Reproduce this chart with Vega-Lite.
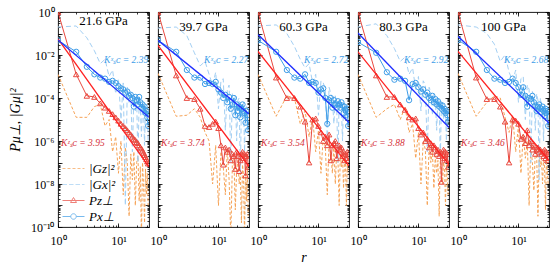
{
"$schema": "https://vega.github.io/schema/vega-lite/v6.json",
"padding": {"left": 7, "top": 5, "right": 5, "bottom": 5},
"bounds": "flush",
"spacing": 9,
"data": {"values": [
{"P":21.6,"r":1,"Gz":1.26e-3,"Gx":2.0e-1,"Pz":1,"Px":4.79e-2},
{"P":21.6,"r":2,"Gz":1.26e-5,"Gx":2.24e-1,"Pz":1.26e-3,"Px":1.41e-2},
{"P":21.6,"r":3,"Gz":1.26e-5,"Gx":6.31e-2,"Pz":1.26e-4,"Px":2.82e-3},
{"P":21.6,"r":4,"Gz":3.98e-5,"Gx":1.58e-2,"Pz":1.12e-4,"Px":1.26e-3},
{"P":21.6,"r":5,"Gz":5.01e-5,"Gx":3.98e-3,"Pz":5.62e-5,"Px":8.91e-4},
{"P":21.6,"r":6,"Gz":5.01e-6,"Gx":6.31e-3,"Pz":3.55e-5,"Px":7.94e-4},
{"P":21.6,"r":7,"Gz":1e-5,"Gx":1e-3,"Pz":2.51e-5,"Px":5.62e-4},
{"P":21.6,"r":8,"Gz":3.16e-7,"Gx":2.0e-3,"Pz":1.78e-5,"Px":6.31e-4},
{"P":21.6,"r":9,"Gz":1.58e-6,"Gx":1.58e-4,"Pz":1.26e-5,"Px":5.01e-4},
{"P":21.6,"r":10,"Gz":3.16e-8,"Gx":7.94e-4,"Pz":8.91e-6,"Px":3.55e-4},
{"P":21.6,"r":11,"Gz":1e-6,"Gx":1e-5,"Pz":6.31e-6,"Px":2.82e-4},
{"P":21.6,"r":12,"Gz":3.16e-9,"Gx":5.01e-4,"Pz":5.01e-6,"Px":2.51e-4},
{"P":21.6,"r":13,"Gz":5.01e-7,"Gx":1e-9,"Pz":3.98e-6,"Px":1.78e-4},
{"P":21.6,"r":14,"Gz":1e-7,"Gx":3.16e-4,"Pz":3.16e-6,"Px":2.0e-4},
{"P":21.6,"r":15,"Gz":3.16e-10,"Gx":6.31e-5,"Pz":2.51e-6,"Px":1.26e-4},
{"P":21.6,"r":16,"Gz":2.51e-7,"Gx":2.0e-4,"Pz":2.0e-6,"Px":1.41e-4},
{"P":21.6,"r":17,"Gz":1.58e-8,"Gx":3.16e-7,"Pz":1.58e-6,"Px":1e-4},
{"P":21.6,"r":18,"Gz":3.16e-7,"Gx":1.26e-4,"Pz":1.26e-6,"Px":3.98e-5},
{"P":21.6,"r":19,"Gz":1e-9,"Gx":2.51e-5,"Pz":1.12e-6,"Px":1.12e-4},
{"P":21.6,"r":20,"Gz":1e-7,"Gx":1e-4,"Pz":8.91e-7,"Px":7.94e-5},
{"P":21.6,"r":21,"Gz":2.0e-7,"Gx":1e-7,"Pz":7.94e-7,"Px":5.01e-5},
{"P":21.6,"r":22,"Gz":1.58e-9,"Gx":7.94e-5,"Pz":6.31e-7,"Px":1.12e-4},
{"P":21.6,"r":23,"Gz":6.31e-8,"Gx":3.98e-5,"Pz":5.01e-7,"Px":6.31e-5},
{"P":21.6,"r":24,"Gz":3.16e-11,"Gx":1.58e-6,"Pz":4.47e-7,"Px":3.55e-5},
{"P":21.6,"r":25,"Gz":1e-7,"Gx":5.01e-5,"Pz":3.55e-7,"Px":5.01e-5},
{"P":21.6,"r":26,"Gz":1e-8,"Gx":3.16e-5,"Pz":2.82e-7,"Px":3.16e-5},
{"P":21.6,"r":27,"Gz":1.58e-10,"Gx":6.31e-7,"Pz":2.24e-7,"Px":3.98e-5},
{"P":21.6,"r":28,"Gz":5.01e-8,"Gx":3.98e-5,"Pz":1.78e-7,"Px":2.0e-5},
{"P":21.6,"r":29,"Gz":3.16e-9,"Gx":1e-5,"Pz":1.41e-7,"Px":2.51e-5},
{"P":21.6,"r":30,"Gz":3.16e-8,"Gx":2.51e-5,"Pz":1.12e-7,"Px":1.26e-5},
{"P":21.6,"r":31,"Gz":1e-9,"Gx":1e-6,"Pz":8.91e-8,"Px":5.01e-6},
{"P":39.7,"r":1,"Gz":1.41e-3,"Gx":1.78e-1,"Pz":1,"Px":4.79e-2},
{"P":39.7,"r":2,"Gz":1.41e-5,"Gx":2.0e-1,"Pz":1.12e-3,"Px":1.41e-2},
{"P":39.7,"r":3,"Gz":1.58e-5,"Gx":7.94e-2,"Pz":1e-4,"Px":2.0e-3},
{"P":39.7,"r":4,"Gz":3.16e-5,"Gx":1.26e-2,"Pz":8.91e-5,"Px":8.91e-4},
{"P":39.7,"r":5,"Gz":1.26e-5,"Gx":3.16e-3,"Pz":3.16e-5,"Px":8.91e-4},
{"P":39.7,"r":6,"Gz":2.51e-6,"Gx":5.01e-3,"Pz":5.01e-6,"Px":4.47e-4},
{"P":39.7,"r":7,"Gz":1e-6,"Gx":1.26e-3,"Pz":4.47e-6,"Px":5.01e-4},
{"P":39.7,"r":8,"Gz":1e-8,"Gx":3.98e-4,"Pz":6.31e-6,"Px":4.47e-4},
{"P":39.7,"r":9,"Gz":6.31e-7,"Gx":1.58e-3,"Pz":7.94e-6,"Px":5.62e-4},
{"P":39.7,"r":10,"Gz":1e-9,"Gx":3.16e-5,"Pz":3.98e-6,"Px":2.51e-4},
{"P":39.7,"r":11,"Gz":3.16e-7,"Gx":6.31e-4,"Pz":6.31e-7,"Px":1.78e-4},
{"P":39.7,"r":12,"Gz":6.31e-8,"Gx":7.94e-4,"Pz":7.94e-8,"Px":1e-4},
{"P":39.7,"r":13,"Gz":3.16e-9,"Gx":3.16e-6,"Pz":5.01e-7,"Px":1.41e-4},
{"P":39.7,"r":14,"Gz":3.98e-7,"Gx":2.51e-4,"Pz":3.16e-7,"Px":6.31e-5},
{"P":39.7,"r":15,"Gz":1.58e-8,"Gx":3.98e-4,"Pz":3.98e-7,"Px":1.12e-4},
{"P":39.7,"r":16,"Gz":3.16e-11,"Gx":1e-7,"Pz":1.26e-7,"Px":3.16e-5},
{"P":39.7,"r":17,"Gz":1e-7,"Gx":1.58e-4,"Pz":2.51e-7,"Px":5.01e-5},
{"P":39.7,"r":18,"Gz":1.58e-7,"Gx":3.98e-5,"Pz":2.0e-7,"Px":1e-4},
{"P":39.7,"r":19,"Gz":6.31e-10,"Gx":1.26e-4,"Pz":5.01e-8,"Px":1.58e-5},
{"P":39.7,"r":20,"Gz":5.01e-8,"Gx":1e-6,"Pz":3.16e-7,"Px":5.01e-5},
{"P":39.7,"r":21,"Gz":1.26e-7,"Gx":7.94e-5,"Pz":2.0e-7,"Px":2.51e-5},
{"P":39.7,"r":22,"Gz":1e-8,"Gx":1e-4,"Pz":3.98e-8,"Px":3.98e-5},
{"P":39.7,"r":23,"Gz":3.16e-8,"Gx":3.16e-8,"Pz":1.26e-7,"Px":1.26e-5},
{"P":39.7,"r":24,"Gz":1.58e-10,"Gx":5.01e-5,"Pz":2.51e-7,"Px":3.16e-5},
{"P":39.7,"r":25,"Gz":7.94e-8,"Gx":2.51e-5,"Pz":3.16e-7,"Px":5.01e-5},
{"P":39.7,"r":26,"Gz":2.51e-8,"Gx":6.31e-5,"Pz":1.58e-7,"Px":2.51e-5},
{"P":39.7,"r":27,"Gz":3.16e-11,"Gx":3.16e-7,"Pz":2.51e-7,"Px":2.0e-5},
{"P":39.7,"r":28,"Gz":5.01e-8,"Gx":3.16e-5,"Pz":2.51e-8,"Px":7.08e-6},
{"P":39.7,"r":29,"Gz":1.58e-9,"Gx":3.98e-5,"Pz":2.0e-7,"Px":2.51e-5},
{"P":39.7,"r":30,"Gz":6.31e-8,"Gx":3.16e-6,"Pz":2.51e-7,"Px":1.58e-5},
{"P":39.7,"r":31,"Gz":3.16e-10,"Gx":1e-5,"Pz":6.31e-8,"Px":3.16e-6},
{"P":60.3,"r":1,"Gz":1.26e-3,"Gx":2.24e-1,"Pz":1,"Px":4.79e-2},
{"P":60.3,"r":2,"Gz":1.41e-5,"Gx":2.51e-1,"Pz":8.91e-4,"Px":1.41e-2},
{"P":60.3,"r":3,"Gz":1.26e-4,"Gx":1e-1,"Pz":1e-4,"Px":2.0e-3},
{"P":60.3,"r":4,"Gz":1e-4,"Gx":2.51e-2,"Pz":1e-4,"Px":8.91e-4},
{"P":60.3,"r":5,"Gz":6.31e-6,"Gx":6.31e-3,"Pz":3.98e-5,"Px":7.94e-4},
{"P":60.3,"r":6,"Gz":2.51e-5,"Gx":2.51e-3,"Pz":7.94e-6,"Px":1.26e-3},
{"P":60.3,"r":7,"Gz":1.58e-6,"Gx":3.98e-3,"Pz":1e-7,"Px":5.01e-4},
{"P":60.3,"r":8,"Gz":1.26e-5,"Gx":5.01e-4,"Pz":1e-5,"Px":5.62e-4},
{"P":60.3,"r":9,"Gz":3.16e-7,"Gx":1.26e-3,"Pz":1.12e-5,"Px":5.01e-4},
{"P":60.3,"r":10,"Gz":3.16e-6,"Gx":1.58e-5,"Pz":5.01e-6,"Px":1.78e-4},
{"P":60.3,"r":11,"Gz":3.16e-8,"Gx":6.31e-4,"Pz":2.51e-6,"Px":2.51e-4},
{"P":60.3,"r":12,"Gz":1.58e-6,"Gx":5.01e-4,"Pz":1e-6,"Px":2.82e-4},
{"P":60.3,"r":13,"Gz":5.01e-7,"Gx":2.51e-4,"Pz":1.58e-6,"Px":1e-4},
{"P":60.3,"r":14,"Gz":3.16e-9,"Gx":1e-6,"Pz":6.31e-7,"Px":6.31e-6},
{"P":60.3,"r":15,"Gz":1e-6,"Gx":3.16e-4,"Pz":2.0e-6,"Px":7.94e-5},
{"P":60.3,"r":16,"Gz":2.51e-7,"Gx":1.58e-4,"Pz":1.26e-7,"Px":1e-4},
{"P":60.3,"r":17,"Gz":3.16e-8,"Gx":1e-4,"Pz":6.31e-7,"Px":3.55e-5},
{"P":60.3,"r":18,"Gz":6.31e-7,"Gx":6.31e-6,"Pz":7.94e-7,"Px":7.94e-5},
{"P":60.3,"r":19,"Gz":1e-8,"Gx":1.26e-4,"Pz":1e-6,"Px":5.01e-5},
{"P":60.3,"r":20,"Gz":3.16e-7,"Gx":5.01e-5,"Pz":1.58e-7,"Px":3.55e-5},
{"P":60.3,"r":21,"Gz":1.58e-7,"Gx":1e-7,"Pz":3.98e-7,"Px":7.08e-5},
{"P":60.3,"r":22,"Gz":1e-9,"Gx":7.94e-5,"Pz":6.31e-7,"Px":5.01e-5},
{"P":60.3,"r":23,"Gz":2.51e-7,"Gx":6.31e-5,"Pz":3.98e-7,"Px":3.55e-5},
{"P":60.3,"r":24,"Gz":6.31e-8,"Gx":3.16e-5,"Pz":5.01e-7,"Px":6.31e-5},
{"P":60.3,"r":25,"Gz":2.0e-7,"Gx":1e-6,"Pz":2.0e-7,"Px":4.47e-5},
{"P":60.3,"r":26,"Gz":6.31e-9,"Gx":5.01e-5,"Pz":3.16e-7,"Px":2.0e-5},
{"P":60.3,"r":27,"Gz":1.26e-7,"Gx":3.98e-5,"Pz":1.26e-7,"Px":3.98e-5},
{"P":60.3,"r":28,"Gz":1e-7,"Gx":1e-5,"Pz":2.51e-7,"Px":2.82e-5},
{"P":60.3,"r":29,"Gz":1e-9,"Gx":5.01e-5,"Pz":1.58e-7,"Px":1.58e-5},
{"P":60.3,"r":30,"Gz":1e-7,"Gx":2.51e-5,"Pz":3.16e-7,"Px":3.16e-5},
{"P":60.3,"r":31,"Gz":3.16e-8,"Gx":3.16e-6,"Pz":1.26e-7,"Px":5.01e-6},
{"P":80.3,"r":1,"Gz":1.26e-3,"Gx":2.0e-1,"Pz":1,"Px":3.98e-2},
{"P":80.3,"r":2,"Gz":1.26e-5,"Gx":2.82e-1,"Pz":1.12e-3,"Px":1.26e-2},
{"P":80.3,"r":3,"Gz":3.16e-5,"Gx":7.94e-2,"Pz":1.12e-4,"Px":1.58e-3},
{"P":80.3,"r":4,"Gz":5.01e-5,"Gx":2.0e-2,"Pz":1.12e-4,"Px":7.08e-4},
{"P":80.3,"r":5,"Gz":1e-5,"Gx":5.01e-3,"Pz":5.01e-5,"Px":7.94e-4},
{"P":80.3,"r":6,"Gz":3.98e-5,"Gx":7.94e-3,"Pz":2.82e-5,"Px":6.31e-4},
{"P":80.3,"r":7,"Gz":2.51e-6,"Gx":1.26e-3,"Pz":1.26e-5,"Px":7.94e-5},
{"P":80.3,"r":8,"Gz":6.31e-6,"Gx":2.51e-3,"Pz":1e-5,"Px":4.47e-4},
{"P":80.3,"r":9,"Gz":1.58e-7,"Gx":2.51e-4,"Pz":1.12e-5,"Px":5.01e-4},
{"P":80.3,"r":10,"Gz":2.51e-6,"Gx":1e-3,"Pz":3.98e-6,"Px":3.16e-4},
{"P":80.3,"r":11,"Gz":1e-8,"Gx":2.51e-5,"Pz":2.0e-6,"Px":2.0e-4},
{"P":80.3,"r":12,"Gz":1e-6,"Gx":6.31e-4,"Pz":2.51e-6,"Px":2.51e-4},
{"P":80.3,"r":13,"Gz":3.98e-7,"Gx":3.98e-4,"Pz":1e-6,"Px":1.41e-4},
{"P":80.3,"r":14,"Gz":1e-9,"Gx":3.16e-7,"Pz":1.26e-6,"Px":1.78e-4},
{"P":80.3,"r":15,"Gz":6.31e-7,"Gx":3.16e-4,"Pz":5.01e-7,"Px":1e-4},
{"P":80.3,"r":16,"Gz":1e-7,"Gx":2.0e-4,"Pz":7.94e-7,"Px":7.94e-5},
{"P":80.3,"r":17,"Gz":3.16e-7,"Gx":1.58e-5,"Pz":3.16e-7,"Px":1.26e-4},
{"P":80.3,"r":18,"Gz":6.31e-9,"Gx":1.58e-4,"Pz":6.31e-7,"Px":6.31e-5},
{"P":80.3,"r":19,"Gz":2.0e-7,"Gx":1e-4,"Pz":5.01e-7,"Px":8.91e-5},
{"P":80.3,"r":20,"Gz":3.16e-8,"Gx":3.16e-6,"Pz":2.51e-7,"Px":5.01e-5},
{"P":80.3,"r":21,"Gz":1.26e-7,"Gx":1e-4,"Pz":3.98e-7,"Px":7.08e-5},
{"P":80.3,"r":22,"Gz":3.16e-10,"Gx":6.31e-5,"Pz":2.0e-7,"Px":3.98e-5},
{"P":80.3,"r":23,"Gz":1.58e-7,"Gx":1.58e-7,"Pz":3.16e-7,"Px":5.01e-5},
{"P":80.3,"r":24,"Gz":6.31e-8,"Gx":6.31e-5,"Pz":1.26e-8,"Px":3.16e-5},
{"P":80.3,"r":25,"Gz":1e-8,"Gx":3.98e-5,"Pz":2.51e-7,"Px":4.47e-5},
{"P":80.3,"r":26,"Gz":1e-7,"Gx":1e-5,"Pz":3.98e-7,"Px":2.51e-5},
{"P":80.3,"r":27,"Gz":5.01e-8,"Gx":3.98e-5,"Pz":1.58e-7,"Px":3.16e-5},
{"P":80.3,"r":28,"Gz":1e-9,"Gx":2.51e-5,"Pz":3.16e-7,"Px":2.0e-5},
{"P":80.3,"r":29,"Gz":7.94e-8,"Gx":1e-6,"Pz":1.26e-7,"Px":2.51e-5},
{"P":80.3,"r":30,"Gz":2.51e-8,"Gx":3.16e-5,"Pz":2.51e-7,"Px":1.58e-5},
{"P":80.3,"r":31,"Gz":3.16e-9,"Gx":6.31e-6,"Pz":6.31e-8,"Px":7.94e-6},
{"P":100,"r":1,"Gz":1.41e-3,"Gx":2.51e-1,"Pz":1,"Px":5.01e-2},
{"P":100,"r":2,"Gz":1.41e-5,"Gx":2.0e-1,"Pz":8.91e-4,"Px":1.41e-2},
{"P":100,"r":3,"Gz":6.31e-5,"Gx":1e-1,"Pz":8.91e-5,"Px":2.0e-3},
{"P":100,"r":4,"Gz":1.26e-4,"Gx":3.16e-2,"Pz":8.91e-5,"Px":7.94e-4},
{"P":100,"r":5,"Gz":1e-4,"Gx":5.01e-3,"Pz":3.98e-5,"Px":7.08e-4},
{"P":100,"r":6,"Gz":1.26e-5,"Gx":1e-2,"Pz":7.94e-6,"Px":5.01e-4},
{"P":100,"r":7,"Gz":2.51e-6,"Gx":1.58e-3,"Pz":1e-7,"Px":5.62e-4},
{"P":100,"r":8,"Gz":1.58e-5,"Gx":6.31e-4,"Pz":1e-5,"Px":7.94e-4},
{"P":100,"r":9,"Gz":3.16e-7,"Gx":2.0e-3,"Pz":8.91e-6,"Px":5.01e-4},
{"P":100,"r":10,"Gz":5.01e-6,"Gx":6.31e-5,"Pz":6.31e-6,"Px":3.16e-4},
{"P":100,"r":11,"Gz":3.16e-8,"Gx":7.94e-4,"Pz":1.26e-6,"Px":1.41e-4},
{"P":100,"r":12,"Gz":2.0e-6,"Gx":1e-3,"Pz":1.58e-6,"Px":3.16e-4},
{"P":100,"r":13,"Gz":1.58e-7,"Gx":1e-5,"Pz":7.94e-7,"Px":1.26e-4},
{"P":100,"r":14,"Gz":1e-6,"Gx":3.98e-4,"Pz":3.16e-6,"Px":3.98e-5},
{"P":100,"r":15,"Gz":1e-9,"Gx":2.51e-4,"Pz":6.31e-7,"Px":1e-4},
{"P":100,"r":16,"Gz":6.31e-7,"Gx":1e-7,"Pz":1e-6,"Px":8.91e-5},
{"P":100,"r":17,"Gz":1e-7,"Gx":2.0e-4,"Pz":3.98e-7,"Px":1.26e-4},
{"P":100,"r":18,"Gz":5.01e-9,"Gx":1.26e-4,"Pz":6.31e-7,"Px":6.31e-5},
{"P":100,"r":19,"Gz":3.98e-7,"Gx":3.16e-6,"Pz":2.51e-7,"Px":4.47e-5},
{"P":100,"r":20,"Gz":2.51e-7,"Gx":1.58e-4,"Pz":3.98e-7,"Px":2.51e-5},
{"P":100,"r":21,"Gz":3.16e-10,"Gx":7.94e-5,"Pz":5.01e-7,"Px":3.98e-5},
{"P":100,"r":22,"Gz":2.0e-7,"Gx":1.58e-8,"Pz":3.16e-7,"Px":5.01e-5},
{"P":100,"r":23,"Gz":6.31e-8,"Gx":1e-4,"Pz":3.98e-7,"Px":2.24e-5},
{"P":100,"r":24,"Gz":1.58e-7,"Gx":5.01e-5,"Pz":2.51e-7,"Px":3.16e-5},
{"P":100,"r":25,"Gz":1e-8,"Gx":3.16e-5,"Pz":3.16e-7,"Px":3.98e-5},
{"P":100,"r":26,"Gz":1.26e-7,"Gx":1e-6,"Pz":2.0e-7,"Px":2.51e-5},
{"P":100,"r":27,"Gz":7.94e-8,"Gx":5.01e-5,"Pz":3.98e-7,"Px":1.41e-5},
{"P":100,"r":28,"Gz":6.31e-10,"Gx":3.98e-5,"Pz":1.58e-7,"Px":3.16e-5},
{"P":100,"r":29,"Gz":1.26e-7,"Gx":1e-5,"Pz":3.16e-7,"Px":2.0e-5},
{"P":100,"r":30,"Gz":3.98e-8,"Gx":3.16e-5,"Pz":1.26e-7,"Px":2.51e-5},
{"P":100,"r":31,"Gz":1e-8,"Gx":3.16e-6,"Pz":2.51e-7,"Px":5.01e-6},
{"P":21.6,"r":1,"Fz":5.62e-2,"Fx":5.01e-2},
{"P":21.6,"r":32,"Fz":6.31e-8,"Fx":1.26e-5},
{"P":39.7,"r":1,"Fz":2.82e-2,"Fx":4.79e-2},
{"P":39.7,"r":32,"Fz":6.61e-8,"Fx":1.82e-5},
{"P":60.3,"r":1,"Fz":1.48e-2,"Fx":8.91e-2},
{"P":60.3,"r":32,"Fz":6.92e-8,"Fx":7.24e-6},
{"P":80.3,"r":1,"Fz":1.41e-2,"Fx":1.05e-1},
{"P":80.3,"r":32,"Fz":7.94e-8,"Fx":4.27e-6},
{"P":100,"r":1,"Fz":1.48e-2,"Fx":7.41e-2},
{"P":100,"r":32,"Fz":1.26e-7,"Fx":6.92e-6},
{"P":21.6,"Kx":"Kˣₛᴄ = 2.39","Kz":"Kᶻₛᴄ = 3.95"},
{"P":39.7,"Kx":"Kˣₛᴄ = 2.27","Kz":"Kᶻₛᴄ = 3.74"},
{"P":60.3,"Kx":"Kˣₛᴄ = 2.72","Kz":"Kᶻₛᴄ = 3.54"},
{"P":80.3,"Kx":"Kˣₛᴄ = 2.92","Kz":"Kᶻₛᴄ = 3.88"},
{"P":100,"Kx":"Kˣₛᴄ = 2.68","Kz":"Kᶻₛᴄ = 3.46"}
]},
"resolve": {"scale": {"color": "independent", "shape": "independent"}, "legend": {"color": "independent", "shape": "independent"}},
"hconcat": [
{
"width": 91, "height": 215,
"title": {"text": "21.6 GPa", "anchor": "middle", "offset": -22},
"transform": [{"filter": "datum.P == 21.6"}],
"resolve": {"axis": {"x": "independent", "y": "independent"}},
"layer": [
{"transform": [{"filter": "isValid(datum.Gz)"}], "mark": {"type": "line", "color": "#f6a255", "strokeDash": [3, 2], "strokeWidth": 1, "clip": true},
 "encoding": {"x": {"field": "r", "type": "quantitative", "scale": {"type": "log", "domain": [1, 32]}, "axis": {"orient": "bottom", "values": [1, 10], "labelExpr": "datum.value < 5 ? '10⁰' : '10¹'", "tickSize": -4, "labelPadding": 12, "labelFlush": false, "title": null}},
  "y": {"field": "Gz", "type": "quantitative", "scale": {"type": "log", "domain": [1e-10, 1]}, "axis": {"orient": "left", "values": [1e-10, 1e-9, 1e-8, 1e-7, 1e-6, 1e-5, 1e-4, 0.001, 0.01, 0.1, 1], "labelExpr": "['10⁰','','10⁻²','','10⁻⁴','','10⁻⁶','','10⁻⁸','','10⁻¹⁰'][round(-log(datum.value)/LN10)]", "tickSize": -4, "labelPadding": 8, "title": "Pμ⊥, |Gμ|²", "titleFontStyle": "italic", "titlePadding": 8}}}},
{"transform": [{"filter": "isValid(datum.Gx)"}], "mark": {"type": "line", "color": "#a3cff3", "strokeDash": [5, 3], "strokeWidth": 1, "clip": true},
 "encoding": {"x": {"field": "r", "type": "quantitative", "scale": {"type": "log", "domain": [1, 32]}, "axis": {"orient": "bottom", "labels": false, "tickCount": 20, "tickSize": -2, "title": null}},
  "y": {"field": "Gx", "type": "quantitative", "scale": {"type": "log", "domain": [1e-10, 1]}, "axis": {"orient": "left", "labels": false, "tickCount": 20, "tickSize": -2, "title": null}}}},
{"transform": [{"filter": "isValid(datum.Pz)"}], "mark": {"type": "line", "color": "#e9493f", "strokeWidth": 1, "clip": true, "point": {"shape": "triangle-up", "filled": false, "size": 30, "strokeWidth": 1, "color": "#e9493f"}},
 "encoding": {"x": {"field": "r", "type": "quantitative", "scale": {"type": "log", "domain": [1, 32]}, "axis": null},
  "y": {"field": "Pz", "type": "quantitative", "scale": {"type": "log", "domain": [1e-10, 1]}, "axis": null}}},
{"transform": [{"filter": "isValid(datum.Px)"}], "mark": {"type": "line", "color": "#3e9de8", "strokeWidth": 1, "clip": true, "point": {"shape": "circle", "filled": false, "size": 28, "strokeWidth": 1, "color": "#3e9de8"}},
 "encoding": {"x": {"field": "r", "type": "quantitative", "scale": {"type": "log", "domain": [1, 32]}, "axis": null},
  "y": {"field": "Px", "type": "quantitative", "scale": {"type": "log", "domain": [1e-10, 1]}, "axis": null}}},
{"transform": [{"filter": "isValid(datum.Fz)"}], "mark": {"type": "line", "color": "#ff1f1f", "strokeWidth": 1.3, "clip": true},
 "encoding": {"x": {"field": "r", "type": "quantitative", "scale": {"type": "log", "domain": [1, 32]}, "axis": {"orient": "top", "values": [1, 10], "labels": false, "tickSize": -4, "title": null}},
  "y": {"field": "Fz", "type": "quantitative", "scale": {"type": "log", "domain": [1e-10, 1]}, "axis": {"orient": "right", "values": [1e-10, 1e-9, 1e-8, 1e-7, 1e-6, 1e-5, 1e-4, 0.001, 0.01, 0.1, 1], "labels": false, "tickSize": -4, "title": null}}}},
{"transform": [{"filter": "isValid(datum.Fx)"}], "mark": {"type": "line", "color": "#1f2fff", "strokeWidth": 1.3, "clip": true},
 "encoding": {"x": {"field": "r", "type": "quantitative", "scale": {"type": "log", "domain": [1, 32]}, "axis": {"orient": "top", "labels": false, "tickCount": 20, "tickSize": -2, "title": null}},
  "y": {"field": "Fx", "type": "quantitative", "scale": {"type": "log", "domain": [1e-10, 1]}, "axis": {"orient": "right", "labels": false, "tickCount": 20, "tickSize": -2, "title": null}}}},
{"transform": [{"filter": "isValid(datum.Kx)"}], "mark": {"type": "text", "align": "right", "baseline": "middle", "color": "#3e9de8", "font": "Liberation Serif", "fontSize": 9.5, "fontStyle": "italic"},
 "encoding": {"x": {"datum": 31, "type": "quantitative", "scale": {"type": "log", "domain": [1, 32]}, "axis": null}, "y": {"datum": 0.0059, "type": "quantitative", "scale": {"type": "log", "domain": [1e-10, 1]}, "axis": null}, "text": {"field": "Kx"}}},
{"transform": [{"filter": "isValid(datum.Kz)"}], "mark": {"type": "text", "align": "left", "baseline": "middle", "color": "#d6333a", "font": "Liberation Serif", "fontSize": 9.5, "fontStyle": "italic"},
 "encoding": {"x": {"datum": 1.12, "type": "quantitative", "scale": {"type": "log", "domain": [1, 32]}, "axis": null}, "y": {"datum": 8e-7, "type": "quantitative", "scale": {"type": "log", "domain": [1e-10, 1]}, "axis": null}, "text": {"field": "Kz"}}},
{"transform": [{"filter": "datum.P < 0"}], "mark": {"type": "point", "filled": false, "strokeWidth": 1},
 "encoding": {"color": {"field": "s", "type": "nominal", "scale": {"domain": ["|Gz|²", "|Gx|²", "Pz⊥", "Px⊥"], "range": ["#f6a255", "#a3cff3", "#e9493f", "#3e9de8"]}, "legend": {"orient": "bottom-left", "title": null, "offset": 3, "labelFont": "Liberation Serif", "labelFontSize": 13, "labelFontStyle": "italic", "labelColor": "black", "symbolSize": 100, "symbolStrokeWidth": 1, "labelOffset": 15, "rowPadding": 2, "padding": 0}},
  "shape": {"field": "s", "type": "nominal", "scale": {"domain": ["|Gz|²", "|Gx|²", "Pz⊥", "Px⊥"], "range": ["M-1,0H-0.4M0,0H0.6M1,0H1.6M2,0H2.6M3,0H3.4", "M-1,0H-0.1M0.3,0H1.2M1.6,0H2.5M2.9,0H3.4", "M-1,0H3.4M1.2,-0.6L1.8,0.4L0.6,0.4Z", "M-1,0H0.65M1.75,0H3.4M0.65,0A0.55,0.55 0 1,0 1.75,0A0.55,0.55 0 1,0 0.65,0"]}}}}
]
},
{
"width": 91, "height": 215,
"title": {"text": "39.7 GPa", "anchor": "middle", "offset": -22},
"transform": [{"filter": "datum.P == 39.7"}],
"resolve": {"axis": {"x": "independent", "y": "independent"}},
"layer": [
{"transform": [{"filter": "isValid(datum.Gz)"}], "mark": {"type": "line", "color": "#f6a255", "strokeDash": [3, 2], "strokeWidth": 1, "clip": true},
 "encoding": {"x": {"field": "r", "type": "quantitative", "scale": {"type": "log", "domain": [1, 32]}, "axis": {"orient": "bottom", "values": [1, 10], "labelExpr": "datum.value < 5 ? '10⁰' : '10¹'", "tickSize": -4, "labelPadding": 12, "labelFlush": false, "title": null}},
  "y": {"field": "Gz", "type": "quantitative", "scale": {"type": "log", "domain": [1e-10, 1]}, "axis": {"orient": "left", "values": [1e-10, 1e-9, 1e-8, 1e-7, 1e-6, 1e-5, 1e-4, 0.001, 0.01, 0.1, 1], "labels": false, "tickSize": -4, "title": null}}}},
{"transform": [{"filter": "isValid(datum.Gx)"}], "mark": {"type": "line", "color": "#a3cff3", "strokeDash": [5, 3], "strokeWidth": 1, "clip": true},
 "encoding": {"x": {"field": "r", "type": "quantitative", "scale": {"type": "log", "domain": [1, 32]}, "axis": {"orient": "bottom", "labels": false, "tickCount": 20, "tickSize": -2, "title": null}},
  "y": {"field": "Gx", "type": "quantitative", "scale": {"type": "log", "domain": [1e-10, 1]}, "axis": {"orient": "left", "labels": false, "tickCount": 20, "tickSize": -2, "title": null}}}},
{"transform": [{"filter": "isValid(datum.Pz)"}], "mark": {"type": "line", "color": "#e9493f", "strokeWidth": 1, "clip": true, "point": {"shape": "triangle-up", "filled": false, "size": 30, "strokeWidth": 1, "color": "#e9493f"}},
 "encoding": {"x": {"field": "r", "type": "quantitative", "scale": {"type": "log", "domain": [1, 32]}, "axis": null},
  "y": {"field": "Pz", "type": "quantitative", "scale": {"type": "log", "domain": [1e-10, 1]}, "axis": null}}},
{"transform": [{"filter": "isValid(datum.Px)"}], "mark": {"type": "line", "color": "#3e9de8", "strokeWidth": 1, "clip": true, "point": {"shape": "circle", "filled": false, "size": 28, "strokeWidth": 1, "color": "#3e9de8"}},
 "encoding": {"x": {"field": "r", "type": "quantitative", "scale": {"type": "log", "domain": [1, 32]}, "axis": null},
  "y": {"field": "Px", "type": "quantitative", "scale": {"type": "log", "domain": [1e-10, 1]}, "axis": null}}},
{"transform": [{"filter": "isValid(datum.Fz)"}], "mark": {"type": "line", "color": "#ff1f1f", "strokeWidth": 1.3, "clip": true},
 "encoding": {"x": {"field": "r", "type": "quantitative", "scale": {"type": "log", "domain": [1, 32]}, "axis": {"orient": "top", "values": [1, 10], "labels": false, "tickSize": -4, "title": null}},
  "y": {"field": "Fz", "type": "quantitative", "scale": {"type": "log", "domain": [1e-10, 1]}, "axis": {"orient": "right", "values": [1e-10, 1e-9, 1e-8, 1e-7, 1e-6, 1e-5, 1e-4, 0.001, 0.01, 0.1, 1], "labels": false, "tickSize": -4, "title": null}}}},
{"transform": [{"filter": "isValid(datum.Fx)"}], "mark": {"type": "line", "color": "#1f2fff", "strokeWidth": 1.3, "clip": true},
 "encoding": {"x": {"field": "r", "type": "quantitative", "scale": {"type": "log", "domain": [1, 32]}, "axis": {"orient": "top", "labels": false, "tickCount": 20, "tickSize": -2, "title": null}},
  "y": {"field": "Fx", "type": "quantitative", "scale": {"type": "log", "domain": [1e-10, 1]}, "axis": {"orient": "right", "labels": false, "tickCount": 20, "tickSize": -2, "title": null}}}},
{"transform": [{"filter": "isValid(datum.Kx)"}], "mark": {"type": "text", "align": "right", "baseline": "middle", "color": "#3e9de8", "font": "Liberation Serif", "fontSize": 9.5, "fontStyle": "italic"},
 "encoding": {"x": {"datum": 31, "type": "quantitative", "scale": {"type": "log", "domain": [1, 32]}, "axis": null}, "y": {"datum": 0.0059, "type": "quantitative", "scale": {"type": "log", "domain": [1e-10, 1]}, "axis": null}, "text": {"field": "Kx"}}},
{"transform": [{"filter": "isValid(datum.Kz)"}], "mark": {"type": "text", "align": "left", "baseline": "middle", "color": "#d6333a", "font": "Liberation Serif", "fontSize": 9.5, "fontStyle": "italic"},
 "encoding": {"x": {"datum": 1.12, "type": "quantitative", "scale": {"type": "log", "domain": [1, 32]}, "axis": null}, "y": {"datum": 8e-7, "type": "quantitative", "scale": {"type": "log", "domain": [1e-10, 1]}, "axis": null}, "text": {"field": "Kz"}}}
]
},
{
"width": 91, "height": 215,
"title": {"text": "60.3 GPa", "anchor": "middle", "offset": -22},
"transform": [{"filter": "datum.P == 60.3"}],
"resolve": {"axis": {"x": "independent", "y": "independent"}},
"layer": [
{"transform": [{"filter": "isValid(datum.Gz)"}], "mark": {"type": "line", "color": "#f6a255", "strokeDash": [3, 2], "strokeWidth": 1, "clip": true},
 "encoding": {"x": {"field": "r", "type": "quantitative", "scale": {"type": "log", "domain": [1, 32]}, "axis": {"orient": "bottom", "values": [1, 10], "labelExpr": "datum.value < 5 ? '10⁰' : '10¹'", "tickSize": -4, "labelPadding": 12, "labelFlush": false, "title": "r", "titleFontStyle": "italic", "titlePadding": 4}},
  "y": {"field": "Gz", "type": "quantitative", "scale": {"type": "log", "domain": [1e-10, 1]}, "axis": {"orient": "left", "values": [1e-10, 1e-9, 1e-8, 1e-7, 1e-6, 1e-5, 1e-4, 0.001, 0.01, 0.1, 1], "labels": false, "tickSize": -4, "title": null}}}},
{"transform": [{"filter": "isValid(datum.Gx)"}], "mark": {"type": "line", "color": "#a3cff3", "strokeDash": [5, 3], "strokeWidth": 1, "clip": true},
 "encoding": {"x": {"field": "r", "type": "quantitative", "scale": {"type": "log", "domain": [1, 32]}, "axis": {"orient": "bottom", "labels": false, "tickCount": 20, "tickSize": -2, "title": null}},
  "y": {"field": "Gx", "type": "quantitative", "scale": {"type": "log", "domain": [1e-10, 1]}, "axis": {"orient": "left", "labels": false, "tickCount": 20, "tickSize": -2, "title": null}}}},
{"transform": [{"filter": "isValid(datum.Pz)"}], "mark": {"type": "line", "color": "#e9493f", "strokeWidth": 1, "clip": true, "point": {"shape": "triangle-up", "filled": false, "size": 30, "strokeWidth": 1, "color": "#e9493f"}},
 "encoding": {"x": {"field": "r", "type": "quantitative", "scale": {"type": "log", "domain": [1, 32]}, "axis": null},
  "y": {"field": "Pz", "type": "quantitative", "scale": {"type": "log", "domain": [1e-10, 1]}, "axis": null}}},
{"transform": [{"filter": "isValid(datum.Px)"}], "mark": {"type": "line", "color": "#3e9de8", "strokeWidth": 1, "clip": true, "point": {"shape": "circle", "filled": false, "size": 28, "strokeWidth": 1, "color": "#3e9de8"}},
 "encoding": {"x": {"field": "r", "type": "quantitative", "scale": {"type": "log", "domain": [1, 32]}, "axis": null},
  "y": {"field": "Px", "type": "quantitative", "scale": {"type": "log", "domain": [1e-10, 1]}, "axis": null}}},
{"transform": [{"filter": "isValid(datum.Fz)"}], "mark": {"type": "line", "color": "#ff1f1f", "strokeWidth": 1.3, "clip": true},
 "encoding": {"x": {"field": "r", "type": "quantitative", "scale": {"type": "log", "domain": [1, 32]}, "axis": {"orient": "top", "values": [1, 10], "labels": false, "tickSize": -4, "title": null}},
  "y": {"field": "Fz", "type": "quantitative", "scale": {"type": "log", "domain": [1e-10, 1]}, "axis": {"orient": "right", "values": [1e-10, 1e-9, 1e-8, 1e-7, 1e-6, 1e-5, 1e-4, 0.001, 0.01, 0.1, 1], "labels": false, "tickSize": -4, "title": null}}}},
{"transform": [{"filter": "isValid(datum.Fx)"}], "mark": {"type": "line", "color": "#1f2fff", "strokeWidth": 1.3, "clip": true},
 "encoding": {"x": {"field": "r", "type": "quantitative", "scale": {"type": "log", "domain": [1, 32]}, "axis": {"orient": "top", "labels": false, "tickCount": 20, "tickSize": -2, "title": null}},
  "y": {"field": "Fx", "type": "quantitative", "scale": {"type": "log", "domain": [1e-10, 1]}, "axis": {"orient": "right", "labels": false, "tickCount": 20, "tickSize": -2, "title": null}}}},
{"transform": [{"filter": "isValid(datum.Kx)"}], "mark": {"type": "text", "align": "right", "baseline": "middle", "color": "#3e9de8", "font": "Liberation Serif", "fontSize": 9.5, "fontStyle": "italic"},
 "encoding": {"x": {"datum": 31, "type": "quantitative", "scale": {"type": "log", "domain": [1, 32]}, "axis": null}, "y": {"datum": 0.0059, "type": "quantitative", "scale": {"type": "log", "domain": [1e-10, 1]}, "axis": null}, "text": {"field": "Kx"}}},
{"transform": [{"filter": "isValid(datum.Kz)"}], "mark": {"type": "text", "align": "left", "baseline": "middle", "color": "#d6333a", "font": "Liberation Serif", "fontSize": 9.5, "fontStyle": "italic"},
 "encoding": {"x": {"datum": 1.12, "type": "quantitative", "scale": {"type": "log", "domain": [1, 32]}, "axis": null}, "y": {"datum": 8e-7, "type": "quantitative", "scale": {"type": "log", "domain": [1e-10, 1]}, "axis": null}, "text": {"field": "Kz"}}}
]
},
{
"width": 91, "height": 215,
"title": {"text": "80.3 GPa", "anchor": "middle", "offset": -22},
"transform": [{"filter": "datum.P == 80.3"}],
"resolve": {"axis": {"x": "independent", "y": "independent"}},
"layer": [
{"transform": [{"filter": "isValid(datum.Gz)"}], "mark": {"type": "line", "color": "#f6a255", "strokeDash": [3, 2], "strokeWidth": 1, "clip": true},
 "encoding": {"x": {"field": "r", "type": "quantitative", "scale": {"type": "log", "domain": [1, 32]}, "axis": {"orient": "bottom", "values": [1, 10], "labelExpr": "datum.value < 5 ? '10⁰' : '10¹'", "tickSize": -4, "labelPadding": 12, "labelFlush": false, "title": null}},
  "y": {"field": "Gz", "type": "quantitative", "scale": {"type": "log", "domain": [1e-10, 1]}, "axis": {"orient": "left", "values": [1e-10, 1e-9, 1e-8, 1e-7, 1e-6, 1e-5, 1e-4, 0.001, 0.01, 0.1, 1], "labels": false, "tickSize": -4, "title": null}}}},
{"transform": [{"filter": "isValid(datum.Gx)"}], "mark": {"type": "line", "color": "#a3cff3", "strokeDash": [5, 3], "strokeWidth": 1, "clip": true},
 "encoding": {"x": {"field": "r", "type": "quantitative", "scale": {"type": "log", "domain": [1, 32]}, "axis": {"orient": "bottom", "labels": false, "tickCount": 20, "tickSize": -2, "title": null}},
  "y": {"field": "Gx", "type": "quantitative", "scale": {"type": "log", "domain": [1e-10, 1]}, "axis": {"orient": "left", "labels": false, "tickCount": 20, "tickSize": -2, "title": null}}}},
{"transform": [{"filter": "isValid(datum.Pz)"}], "mark": {"type": "line", "color": "#e9493f", "strokeWidth": 1, "clip": true, "point": {"shape": "triangle-up", "filled": false, "size": 30, "strokeWidth": 1, "color": "#e9493f"}},
 "encoding": {"x": {"field": "r", "type": "quantitative", "scale": {"type": "log", "domain": [1, 32]}, "axis": null},
  "y": {"field": "Pz", "type": "quantitative", "scale": {"type": "log", "domain": [1e-10, 1]}, "axis": null}}},
{"transform": [{"filter": "isValid(datum.Px)"}], "mark": {"type": "line", "color": "#3e9de8", "strokeWidth": 1, "clip": true, "point": {"shape": "circle", "filled": false, "size": 28, "strokeWidth": 1, "color": "#3e9de8"}},
 "encoding": {"x": {"field": "r", "type": "quantitative", "scale": {"type": "log", "domain": [1, 32]}, "axis": null},
  "y": {"field": "Px", "type": "quantitative", "scale": {"type": "log", "domain": [1e-10, 1]}, "axis": null}}},
{"transform": [{"filter": "isValid(datum.Fz)"}], "mark": {"type": "line", "color": "#ff1f1f", "strokeWidth": 1.3, "clip": true},
 "encoding": {"x": {"field": "r", "type": "quantitative", "scale": {"type": "log", "domain": [1, 32]}, "axis": {"orient": "top", "values": [1, 10], "labels": false, "tickSize": -4, "title": null}},
  "y": {"field": "Fz", "type": "quantitative", "scale": {"type": "log", "domain": [1e-10, 1]}, "axis": {"orient": "right", "values": [1e-10, 1e-9, 1e-8, 1e-7, 1e-6, 1e-5, 1e-4, 0.001, 0.01, 0.1, 1], "labels": false, "tickSize": -4, "title": null}}}},
{"transform": [{"filter": "isValid(datum.Fx)"}], "mark": {"type": "line", "color": "#1f2fff", "strokeWidth": 1.3, "clip": true},
 "encoding": {"x": {"field": "r", "type": "quantitative", "scale": {"type": "log", "domain": [1, 32]}, "axis": {"orient": "top", "labels": false, "tickCount": 20, "tickSize": -2, "title": null}},
  "y": {"field": "Fx", "type": "quantitative", "scale": {"type": "log", "domain": [1e-10, 1]}, "axis": {"orient": "right", "labels": false, "tickCount": 20, "tickSize": -2, "title": null}}}},
{"transform": [{"filter": "isValid(datum.Kx)"}], "mark": {"type": "text", "align": "right", "baseline": "middle", "color": "#3e9de8", "font": "Liberation Serif", "fontSize": 9.5, "fontStyle": "italic"},
 "encoding": {"x": {"datum": 31, "type": "quantitative", "scale": {"type": "log", "domain": [1, 32]}, "axis": null}, "y": {"datum": 0.0059, "type": "quantitative", "scale": {"type": "log", "domain": [1e-10, 1]}, "axis": null}, "text": {"field": "Kx"}}},
{"transform": [{"filter": "isValid(datum.Kz)"}], "mark": {"type": "text", "align": "left", "baseline": "middle", "color": "#d6333a", "font": "Liberation Serif", "fontSize": 9.5, "fontStyle": "italic"},
 "encoding": {"x": {"datum": 1.12, "type": "quantitative", "scale": {"type": "log", "domain": [1, 32]}, "axis": null}, "y": {"datum": 8e-7, "type": "quantitative", "scale": {"type": "log", "domain": [1e-10, 1]}, "axis": null}, "text": {"field": "Kz"}}}
]
},
{
"width": 91, "height": 215,
"title": {"text": "100 GPa", "anchor": "middle", "offset": -22},
"transform": [{"filter": "datum.P == 100"}],
"resolve": {"axis": {"x": "independent", "y": "independent"}},
"layer": [
{"transform": [{"filter": "isValid(datum.Gz)"}], "mark": {"type": "line", "color": "#f6a255", "strokeDash": [3, 2], "strokeWidth": 1, "clip": true},
 "encoding": {"x": {"field": "r", "type": "quantitative", "scale": {"type": "log", "domain": [1, 32]}, "axis": {"orient": "bottom", "values": [1, 10], "labelExpr": "datum.value < 5 ? '10⁰' : '10¹'", "tickSize": -4, "labelPadding": 12, "labelFlush": false, "title": null}},
  "y": {"field": "Gz", "type": "quantitative", "scale": {"type": "log", "domain": [1e-10, 1]}, "axis": {"orient": "left", "values": [1e-10, 1e-9, 1e-8, 1e-7, 1e-6, 1e-5, 1e-4, 0.001, 0.01, 0.1, 1], "labels": false, "tickSize": -4, "title": null}}}},
{"transform": [{"filter": "isValid(datum.Gx)"}], "mark": {"type": "line", "color": "#a3cff3", "strokeDash": [5, 3], "strokeWidth": 1, "clip": true},
 "encoding": {"x": {"field": "r", "type": "quantitative", "scale": {"type": "log", "domain": [1, 32]}, "axis": {"orient": "bottom", "labels": false, "tickCount": 20, "tickSize": -2, "title": null}},
  "y": {"field": "Gx", "type": "quantitative", "scale": {"type": "log", "domain": [1e-10, 1]}, "axis": {"orient": "left", "labels": false, "tickCount": 20, "tickSize": -2, "title": null}}}},
{"transform": [{"filter": "isValid(datum.Pz)"}], "mark": {"type": "line", "color": "#e9493f", "strokeWidth": 1, "clip": true, "point": {"shape": "triangle-up", "filled": false, "size": 30, "strokeWidth": 1, "color": "#e9493f"}},
 "encoding": {"x": {"field": "r", "type": "quantitative", "scale": {"type": "log", "domain": [1, 32]}, "axis": null},
  "y": {"field": "Pz", "type": "quantitative", "scale": {"type": "log", "domain": [1e-10, 1]}, "axis": null}}},
{"transform": [{"filter": "isValid(datum.Px)"}], "mark": {"type": "line", "color": "#3e9de8", "strokeWidth": 1, "clip": true, "point": {"shape": "circle", "filled": false, "size": 28, "strokeWidth": 1, "color": "#3e9de8"}},
 "encoding": {"x": {"field": "r", "type": "quantitative", "scale": {"type": "log", "domain": [1, 32]}, "axis": null},
  "y": {"field": "Px", "type": "quantitative", "scale": {"type": "log", "domain": [1e-10, 1]}, "axis": null}}},
{"transform": [{"filter": "isValid(datum.Fz)"}], "mark": {"type": "line", "color": "#ff1f1f", "strokeWidth": 1.3, "clip": true},
 "encoding": {"x": {"field": "r", "type": "quantitative", "scale": {"type": "log", "domain": [1, 32]}, "axis": {"orient": "top", "values": [1, 10], "labels": false, "tickSize": -4, "title": null}},
  "y": {"field": "Fz", "type": "quantitative", "scale": {"type": "log", "domain": [1e-10, 1]}, "axis": {"orient": "right", "values": [1e-10, 1e-9, 1e-8, 1e-7, 1e-6, 1e-5, 1e-4, 0.001, 0.01, 0.1, 1], "labels": false, "tickSize": -4, "title": null}}}},
{"transform": [{"filter": "isValid(datum.Fx)"}], "mark": {"type": "line", "color": "#1f2fff", "strokeWidth": 1.3, "clip": true},
 "encoding": {"x": {"field": "r", "type": "quantitative", "scale": {"type": "log", "domain": [1, 32]}, "axis": {"orient": "top", "labels": false, "tickCount": 20, "tickSize": -2, "title": null}},
  "y": {"field": "Fx", "type": "quantitative", "scale": {"type": "log", "domain": [1e-10, 1]}, "axis": {"orient": "right", "labels": false, "tickCount": 20, "tickSize": -2, "title": null}}}},
{"transform": [{"filter": "isValid(datum.Kx)"}], "mark": {"type": "text", "align": "right", "baseline": "middle", "color": "#3e9de8", "font": "Liberation Serif", "fontSize": 9.5, "fontStyle": "italic"},
 "encoding": {"x": {"datum": 31, "type": "quantitative", "scale": {"type": "log", "domain": [1, 32]}, "axis": null}, "y": {"datum": 0.0059, "type": "quantitative", "scale": {"type": "log", "domain": [1e-10, 1]}, "axis": null}, "text": {"field": "Kx"}}},
{"transform": [{"filter": "isValid(datum.Kz)"}], "mark": {"type": "text", "align": "left", "baseline": "middle", "color": "#d6333a", "font": "Liberation Serif", "fontSize": 9.5, "fontStyle": "italic"},
 "encoding": {"x": {"datum": 1.12, "type": "quantitative", "scale": {"type": "log", "domain": [1, 32]}, "axis": null}, "y": {"datum": 8e-7, "type": "quantitative", "scale": {"type": "log", "domain": [1e-10, 1]}, "axis": null}, "text": {"field": "Kz"}}}
]
}
],
"config": {
 "font": "Liberation Serif",
 "view": {"stroke": "black", "strokeWidth": 0.9},
 "axis": {"domain": false, "grid": false, "tickColor": "black", "tickWidth": 0.8, "labelFont": "Liberation Serif", "labelFontSize": 12, "labelColor": "black", "titleFont": "Liberation Serif", "titleColor": "black", "titleFontWeight": "normal", "titleFontSize": 14, "labelOverlap": false},
 "title": {"font": "Liberation Serif", "fontSize": 13, "fontWeight": "normal", "color": "black", "frame": "group", "baseline": "alphabetic"}
}
}
